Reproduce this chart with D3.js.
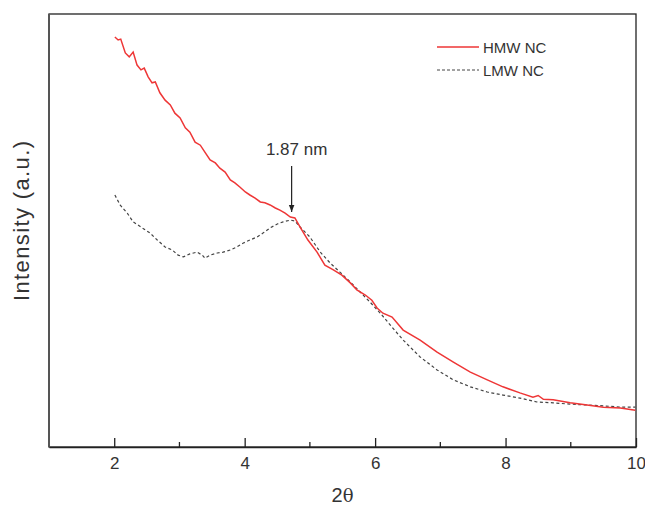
<!DOCTYPE html>
<html lang="en">
<head>
<meta charset="utf-8"/>
<script src="https://d3js.org/d3.v7.min.js"></script>
<style>
  body { margin: 0; background: #fff; }
  text { font-family: "Liberation Sans", Arial, sans-serif; fill: #333; }
</style>
</head>
<body>
<script>
    // HMW NC curve (2theta, intensity a.u.)
    var hmwX = [2.01, 2.06, 2.10, 2.17, 2.23, 2.29, 2.35, 2.41, 2.46, 2.52, 2.58, 2.63, 2.70, 2.78, 2.86, 2.93,
        3.01, 3.09, 3.16, 3.24, 3.32, 3.39, 3.47, 3.55, 3.62, 3.70, 3.78, 3.85, 3.93, 4.01, 4.08, 4.16,
        4.24, 4.31, 4.39, 4.47, 4.54, 4.62, 4.70, 4.77, 4.85, 4.97, 5.11, 5.23, 5.36, 5.49, 5.62, 5.72,
        5.85, 5.95, 6.03, 6.12, 6.26, 6.43, 6.69, 6.95, 7.20, 7.46, 7.72, 7.96, 8.22, 8.42, 8.50, 8.58,
        8.73, 8.99, 9.25, 9.50, 9.76, 9.99];
    var hmwY = [94.7, 94.0, 94.2, 91.0, 90.1, 91.2, 88.2, 87.1, 87.5, 85.5, 84.1, 84.3, 81.8, 80.1, 79.0, 77.1,
        76.0, 73.7, 72.7, 70.4, 69.7, 68.1, 66.3, 65.6, 64.4, 63.5, 61.7, 61.0, 60.0, 58.9, 58.2, 57.5,
        56.6, 56.4, 55.9, 55.2, 54.7, 54.0, 53.1, 52.9, 50.8, 47.8, 45.0, 42.0, 40.9, 39.7, 37.9, 36.3,
        35.1, 33.9, 32.1, 30.9, 30.0, 27.0, 24.7, 21.9, 19.6, 17.3, 15.5, 13.9, 12.5, 11.5, 11.9, 11.0,
        10.9, 10.2, 9.7, 9.2, 9.0, 8.5];

    // LMW NC curve
    var lmwX = [2.01, 2.09, 2.20, 2.29, 2.43, 2.55, 2.66, 2.78, 2.89, 2.98, 3.06, 3.16, 3.27, 3.35, 3.39,
        3.47, 3.58, 3.67, 3.78, 3.88, 3.98, 4.08, 4.19, 4.28, 4.39, 4.50, 4.59, 4.70, 4.77, 4.85, 5.00,
        5.16, 5.31, 5.46, 5.62, 5.77, 5.92, 6.08, 6.23, 6.43, 6.69, 6.95, 7.20, 7.46, 7.72, 7.96, 8.22,
        8.48, 8.73, 8.99, 9.25, 9.50, 9.76, 9.99];
    var lmwY = [58.2, 55.9, 54.0, 52.0, 50.6, 49.4, 47.8, 46.2, 45.5, 44.3, 43.9, 44.6, 45.0, 44.3, 43.6,
        44.3, 44.8, 45.0, 45.5, 46.2, 47.1, 47.8, 48.5, 49.4, 50.6, 51.5, 52.0, 52.4, 52.2, 50.8, 48.5,
        45.0, 42.5, 40.4, 38.1, 35.8, 33.5, 30.9, 28.2, 24.7, 20.8, 17.8, 15.5, 13.9, 12.7, 12.0, 11.3,
        10.4, 10.2, 9.9, 9.7, 9.5, 9.2, 9.2];

    var majorTicks = [2, 4, 6, 8, 10];
    var minorTicks = [3, 5, 7, 9];
    var seriesNames = ["HMW NC", "LMW NC"];
    var peakX = 4.72, peakLabel = "1.87 nm";

    var W = 645, H = 508;
    var margin = {top: 14, right: 9, bottom: 61, left: 49};

    var svg = d3.select("body").append("svg")
        .attr("width", W).attr("height", H);

    var x = d3.scaleLinear().domain([1, 10]).range([margin.left, W - margin.right]);
    var y = d3.scaleLinear().domain([0, 100]).range([H - margin.bottom, margin.top]);

    // frame
    svg.append("rect")
        .attr("x", x(1)).attr("y", y(100))
        .attr("width", x(10) - x(1)).attr("height", y(0) - y(100))
        .attr("fill", "none").attr("stroke", "#222").attr("stroke-width", 1.3);
    svg.append("line")
        .attr("x1", x(1)).attr("x2", x(1)).attr("y1", y(100)).attr("y2", y(0))
        .attr("stroke", "#555").attr("stroke-width", 2);

    // x axis, ticks pointing in
    var xAxis = svg.append("g")
        .attr("transform", "translate(0," + y(0) + ")")
        .call(d3.axisBottom(x).tickValues(majorTicks).tickSizeInner(-9).tickSizeOuter(0).tickPadding(10).tickFormat(d3.format("d")));
    xAxis.select(".domain").attr("stroke", "#222").attr("stroke-width", 1.3);
    xAxis.selectAll(".tick line").attr("stroke", "#222").attr("stroke-width", 1.3);
    xAxis.selectAll(".tick text").attr("font-size", 17).attr("font-family", "Liberation Sans, Arial, sans-serif").attr("fill", "#333");

    svg.selectAll(".minor")
        .data(minorTicks)
        .enter().append("line")
        .attr("x1", function(d) { return x(d); })
        .attr("x2", function(d) { return x(d); })
        .attr("y1", y(0)).attr("y2", y(0) - 5)
        .attr("stroke", "#222").attr("stroke-width", 1.3);

    // axis titles
    var xt = svg.append("text")
        .attr("x", (x(1) + x(10)) / 2).attr("y", 502)
        .attr("text-anchor", "middle").attr("font-size", 20);
    xt.append("tspan").text("2");
    xt.append("tspan").attr("font-family", "DejaVu Serif, serif").attr("font-size", 18).text("θ");

    svg.append("text")
        .attr("transform", "translate(29,221) rotate(-90)")
        .attr("text-anchor", "middle").attr("font-size", 22)
        .attr("textLength", 160).attr("lengthAdjust", "spacing")
        .text("Intensity (a.u.)");

    var line = d3.line()
        .x(function(d) { return x(d[0]); })
        .y(function(d) { return y(d[1]); });

    svg.append("path")
        .datum(d3.zip(lmwX, lmwY))
        .attr("d", line)
        .attr("fill", "none").attr("stroke", "#444").attr("stroke-width", 1.2)
        .attr("stroke-dasharray", "3,2.5");

    svg.append("path")
        .datum(d3.zip(hmwX, hmwY))
        .attr("d", line)
        .attr("fill", "none").attr("stroke", "#ee3636").attr("stroke-width", 1.5);

    // peak annotation
    svg.append("defs").append("marker")
        .attr("id", "arrow").attr("viewBox", "0 0 10 10")
        .attr("refX", 10).attr("refY", 5)
        .attr("markerWidth", 6).attr("markerHeight", 7)
        .attr("orient", "auto")
        .append("path").attr("d", "M0,1 L10,5 L0,9 z").attr("fill", "#222");
    svg.append("line")
        .attr("x1", x(peakX)).attr("x2", x(peakX))
        .attr("y1", 166).attr("y2", y(54.3))
        .attr("stroke", "#222").attr("stroke-width", 1.2)
        .attr("marker-end", "url(#arrow)");
    svg.append("text")
        .attr("x", x(peakX) + 5).attr("y", 155)
        .attr("text-anchor", "middle").attr("font-size", 17)
        .text(peakLabel);

    // legend
    var legend = svg.append("g").attr("transform", "translate(437,47)");
    legend.append("line").attr("x1", 0).attr("x2", 42).attr("y1", 0).attr("y2", 0)
        .attr("stroke", "#ee3636").attr("stroke-width", 1.5);
    legend.append("line").attr("x1", 0).attr("x2", 42).attr("y1", 23).attr("y2", 23)
        .attr("stroke", "#444").attr("stroke-width", 1).attr("stroke-dasharray", "3,2");
    legend.selectAll("text.lg")
        .data(seriesNames)
        .enter().append("text")
        .attr("x", 46).attr("y", function(d, i) { return 5.5 + i * 23; })
        .attr("font-size", 15)
        .text(function(d) { return d; });
</script>
</body>
</html>
